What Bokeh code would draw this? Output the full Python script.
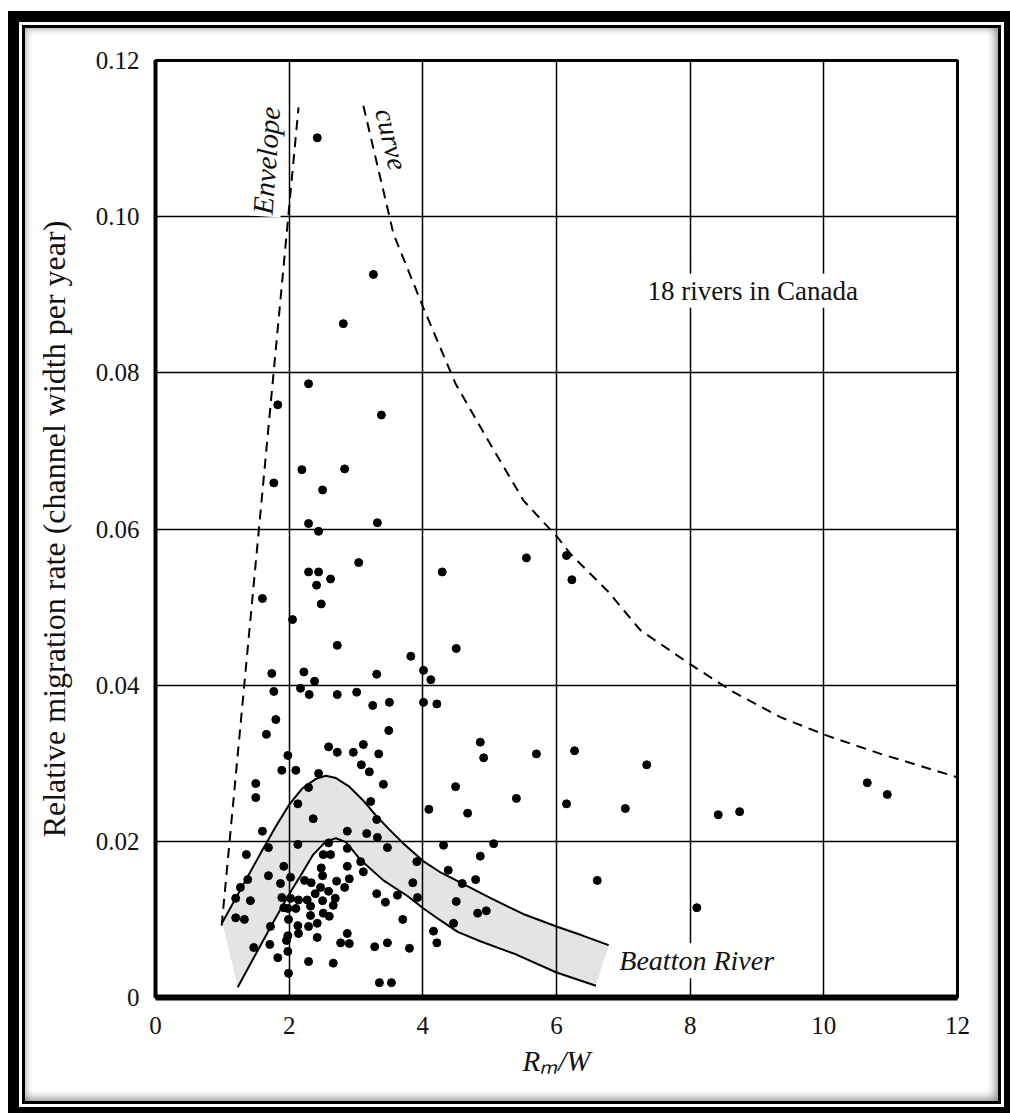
from bokeh.plotting import figure
from bokeh.models import Range1d, FixedTicker, Label
from bokeh.embed import file_html
from bokeh.resources import INLINE

# ---------------- data ----------------
x_ticks = [0, 2, 4, 6, 8, 10, 12]
x_tick_labels = ["0", "2", "4", "6", "8", "10", "12"]
y_ticks = [0, 0.02, 0.04, 0.06, 0.08, 0.10, 0.12]
y_tick_labels = ["0", "0.02", "0.04", "0.06", "0.08", "0.10", "0.12"]

# scatter points (R_m/W, relative migration rate)
pts_x = [
    2.13, 2.36, 1.60, 2.87, 1.69, 2.13, 1.36, 2.59, 2.51, 2.62, 2.87, 1.92, 2.48, 2.87,
    1.69, 2.02, 1.38, 2.50, 2.23, 2.33, 2.71, 2.90, 1.87, 1.27, 2.47, 2.83, 1.20, 1.42,
    1.89, 2.02, 2.14, 2.27, 2.39, 2.59, 2.50, 2.69, 1.92, 1.98, 2.10, 2.32, 2.66, 2.51,
    2.60, 2.32, 1.20, 1.33, 1.99, 2.42, 2.29, 1.72, 2.13, 2.14, 1.98, 1.96, 2.42, 2.87,
    2.77, 2.90, 1.47, 1.71, 1.98, 1.83, 2.29, 2.66, 1.99,
    1.80, 1.66, 3.25, 3.50, 4.01, 4.21, 3.49, 4.86, 4.91, 2.59, 2.72, 2.96, 3.11, 3.34,
    3.08, 3.20, 1.98, 1.89, 2.10, 2.44, 1.50, 1.50, 2.29,
    3.41, 4.49, 3.22, 4.09, 4.67, 3.31, 3.16, 3.32, 3.47, 4.31, 5.06, 4.86, 3.91, 3.07,
    3.11, 4.38, 4.79, 4.59, 3.85, 3.31, 3.62, 3.92, 3.44, 4.50, 4.82, 4.95, 3.70, 4.46,
    4.16, 4.21, 3.28, 3.47, 3.80, 3.35, 3.53,
    2.29, 1.83, 3.38, 2.19, 2.83, 1.77, 2.50, 2.29, 2.44, 3.32, 3.04, 4.29, 2.29, 2.44,
    2.62, 2.41, 1.60, 2.48, 2.05, 2.72, 4.50, 3.82, 1.74, 2.22, 3.31, 4.01, 4.12, 2.38,
    1.77, 2.17, 2.30, 2.72, 3.01,
    2.42, 3.26, 2.81,
    5.55, 6.15, 6.23, 5.70, 6.27, 7.35, 5.40, 6.15, 7.03, 8.42, 8.74, 10.65, 10.95, 6.61, 8.10,
]
pts_y = [
    0.0248, 0.0229, 0.0213, 0.0213, 0.0192, 0.0196, 0.0183, 0.0198, 0.0183, 0.0183, 0.0191, 0.0168, 0.0166, 0.0168,
    0.0156, 0.0154, 0.0151, 0.0156, 0.0150, 0.0147, 0.0149, 0.0152, 0.0146, 0.0141, 0.0141, 0.0141, 0.0127, 0.0124,
    0.0128, 0.0127, 0.0125, 0.0125, 0.0133, 0.0136, 0.0124, 0.0127, 0.0115, 0.0114, 0.0114, 0.0117, 0.0118, 0.0108,
    0.0104, 0.0105, 0.0102, 0.0100, 0.0100, 0.0095, 0.0091, 0.0091, 0.0092, 0.0082, 0.0079, 0.0073, 0.0077, 0.0082,
    0.0070, 0.0069, 0.0064, 0.0068, 0.0059, 0.0051, 0.0046, 0.0044, 0.0031,
    0.0356, 0.0337, 0.0374, 0.0378, 0.0378, 0.0376, 0.0342, 0.0327, 0.0307, 0.0321, 0.0314, 0.0314, 0.0324, 0.0312,
    0.0298, 0.0289, 0.0310, 0.0291, 0.0291, 0.0287, 0.0274, 0.0256, 0.0269,
    0.0273, 0.0270, 0.0251, 0.0241, 0.0236, 0.0228, 0.0210, 0.0205, 0.0192, 0.0195, 0.0197, 0.0181, 0.0174, 0.0174,
    0.0161, 0.0163, 0.0151, 0.0146, 0.0147, 0.0133, 0.0131, 0.0128, 0.0122, 0.0123, 0.0108, 0.0111, 0.0100, 0.0095,
    0.0085, 0.0070, 0.0065, 0.0070, 0.0063, 0.0019, 0.0019,
    0.0786, 0.0759, 0.0746, 0.0676, 0.0677, 0.0659, 0.0650, 0.0607, 0.0597, 0.0608, 0.0557, 0.0545, 0.0545, 0.0545,
    0.0536, 0.0528, 0.0511, 0.0504, 0.0484, 0.0451, 0.0447, 0.0437, 0.0415, 0.0417, 0.0414, 0.0419, 0.0407, 0.0405,
    0.0392, 0.0396, 0.0388, 0.0388, 0.0391,
    0.1101, 0.0926, 0.0863,
    0.0563, 0.0566, 0.0535, 0.0312, 0.0316, 0.0298, 0.0255, 0.0248, 0.0242, 0.0234, 0.0238, 0.0275, 0.0260, 0.0150, 0.0115,
]

# Beatton River band
band_upper_x = [1.00, 1.2, 1.4, 1.6, 1.8, 2.0, 2.2, 2.4, 2.55, 2.7, 2.9, 3.1, 3.3, 3.5,
                3.7, 4.0, 4.25, 4.5, 5.0, 5.5, 6.0, 6.4, 6.78]
band_upper_y = [0.0096, 0.0127, 0.0158, 0.0189, 0.0219, 0.0247, 0.0268, 0.0280, 0.0284, 0.0281,
                0.0270, 0.0253, 0.0233, 0.0215, 0.0198, 0.0175, 0.0161, 0.0150, 0.0128, 0.0107,
                0.0091, 0.0079, 0.0067]
band_lower_x = [1.23, 1.47, 1.72, 1.97, 2.17, 2.36, 2.55, 2.70, 2.85, 3.07, 3.41, 3.77,
                4.01, 4.26, 4.52, 4.86, 5.4, 6.0, 6.59]
band_lower_y = [0.0013, 0.0051, 0.0090, 0.0128, 0.0156, 0.0183, 0.0200, 0.0204, 0.0199, 0.0176,
                0.0150, 0.0130, 0.0114, 0.0099, 0.0084, 0.0072, 0.0055, 0.0032, 0.0015]

# envelope curve (dashed)
env_left_x = [0.99, 2.14]
env_left_y = [0.0092, 0.114]
env_right_x = [3.11, 3.49, 3.56, 4.01, 4.49, 5.0, 5.51, 6.02, 6.21, 6.76, 7.26, 7.98,
               8.65, 9.35, 10.06, 10.85, 12.0]
env_right_y = [0.1142, 0.1004, 0.0978, 0.0883, 0.0786, 0.0710, 0.0636, 0.0589, 0.0568,
               0.0521, 0.0470, 0.0428, 0.0391, 0.0359, 0.0335, 0.0312, 0.0282]

FONT = "Liberation Serif"

p = figure(width=973, height=1073,
           x_range=Range1d(0, 12), y_range=Range1d(0, 0.12),
           output_backend="svg", toolbar_location=None, tools="",
           min_border_left=130, min_border_right=41,
           min_border_top=32, min_border_bottom=104)

# page decoration: double black frame with an inner shadow
p.margin = (28, 0, 0, 25)
p.styles = {
    "box-shadow": ("inset -3px -3px 9px rgba(0,0,0,0.40), "
                   "inset 2px 2px 7px rgba(0,0,0,0.18), "
                   "0 0 0 3px #000000, 0 0 0 6px #ffffff, 0 0 0 17px #000000"),
}

p.background_fill_color = "white"
p.border_fill_color = None
p.outline_line_color = "black"
p.outline_line_width = 3

# axes
p.xaxis.ticker = FixedTicker(ticks=x_ticks)
p.yaxis.ticker = FixedTicker(ticks=y_ticks)
p.xaxis.major_label_overrides = dict(zip(x_ticks, x_tick_labels))
p.yaxis.major_label_overrides = dict(zip(y_ticks, y_tick_labels))
for ax in (p.xaxis, p.yaxis):
    ax.major_tick_line_color = None
    ax.minor_tick_line_color = None
    ax.axis_line_color = "black"
    ax.major_label_text_font = FONT
    ax.major_label_text_font_size = "25px"
    ax.major_label_text_color = "#111111"
    ax.axis_label_text_font = FONT
    ax.axis_label_text_color = "#111111"
p.yaxis.axis_line_width = 4
p.xaxis.axis_line_width = 6
p.yaxis.major_label_standoff = 10
p.xaxis.major_label_standoff = 13

p.yaxis.axis_label = "Relative migration rate (channel width per year)"
p.yaxis.axis_label_text_font_size = "32px"
p.yaxis.axis_label_text_font_style = "normal"
p.yaxis.axis_label_standoff = 21

p.xaxis.axis_label = "R\u2098/W"
p.xaxis.axis_label_text_font_size = "29px"
p.xaxis.axis_label_text_font_style = "italic"
p.xaxis.axis_label_standoff = 8

p.grid.grid_line_color = "black"
p.grid.grid_line_width = 1.5
p.xgrid.ticker = FixedTicker(ticks=x_ticks)
p.ygrid.ticker = FixedTicker(ticks=y_ticks)

# band
p.patch(band_upper_x + band_lower_x[::-1], band_upper_y + band_lower_y[::-1],
        fill_color="#e4e4e4", line_color=None, level="image")
p.line(band_upper_x, band_upper_y, line_color="black", line_width=2)
p.line(band_lower_x, band_lower_y, line_color="black", line_width=2)

# envelope curve
p.line(env_left_x, env_left_y, line_color="black", line_width=2, line_dash="10 7")
p.line(env_right_x, env_right_y, line_color="black", line_width=2, line_dash="10 7")

# points
p.scatter(pts_x, pts_y, marker="circle", size=8, fill_color="black", line_color="black")

# annotations
def add_label(x, y, text, size, style, angle=0.0, align="center"):
    lab = Label(x=x, y=y, text=text, angle=angle, angle_units="rad",
                text_font=FONT, text_font_size=size, text_font_style=style,
                text_color="#111111", text_align=align, text_baseline="middle",
                background_fill_color="white", padding=2)
    p.add_layout(lab)

add_label(7.33, 0.0905, "18 rivers in Canada", "27px", "normal", align="left")
add_label(1.66, 0.1072, "Envelope", "29px", "italic", angle=1.50)
add_label(3.53, 0.1099, "curve", "28px", "italic", angle=-1.34)
add_label(6.91, 0.0047, "Beatton River", "28px", "italic", align="left")

open("out.html", "w").write(file_html(p, INLINE))
